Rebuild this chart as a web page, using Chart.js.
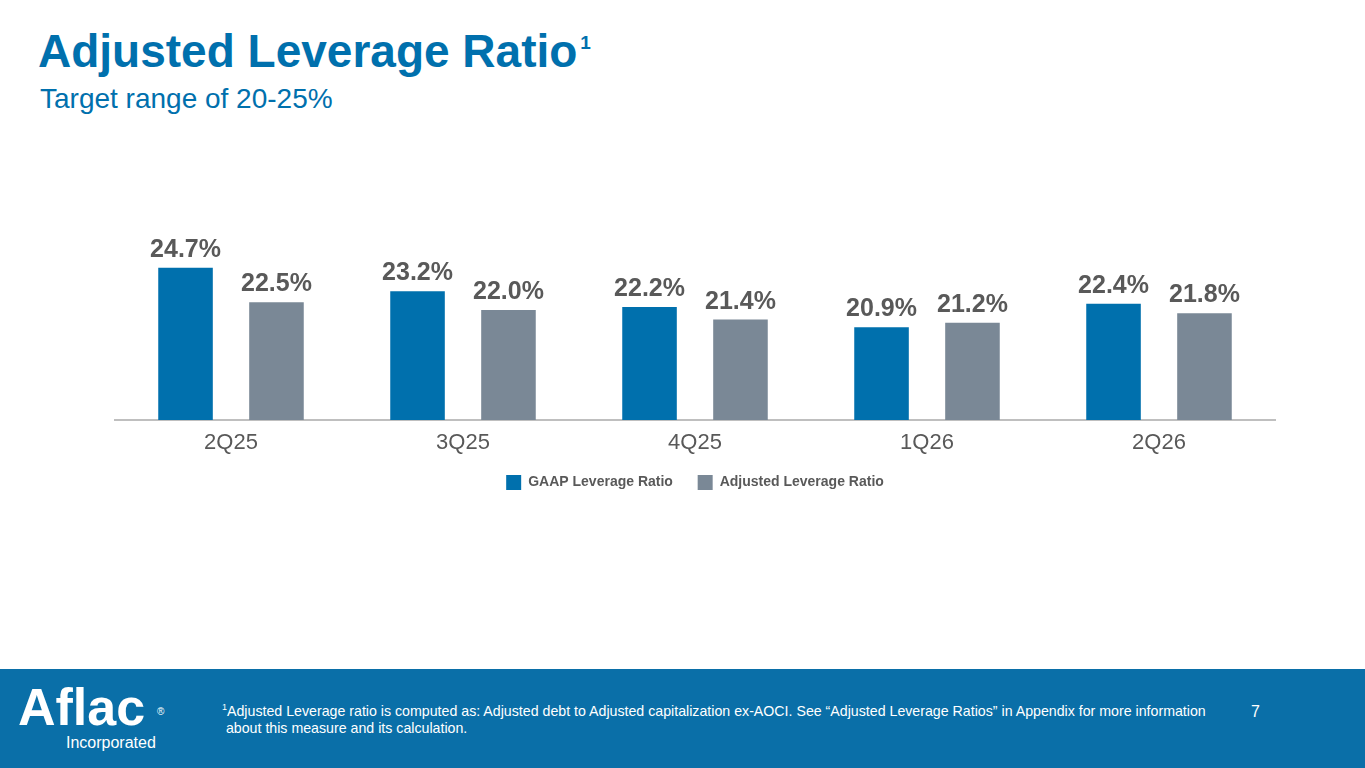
<!DOCTYPE html>
<html>
<head>
<meta charset="utf-8">
<script src="https://cdn.jsdelivr.net/npm/chart.js@4.4.1/dist/chart.umd.min.js"></script>
<style>
  html, body { margin: 0; padding: 0; background: #fff; }
  body { width: 1365px; height: 768px; position: relative; overflow: hidden; font-family: "Liberation Sans", Arial, sans-serif; }
  .title { position: absolute; left: 38px; top: 28px; font-size: 46px; line-height: 46px; font-weight: bold; color: #0070AD; white-space: nowrap; }
  .title sup { font-size: 19px; position: relative; top: -8px; margin-left: 3px; vertical-align: top; }
  .subtitle { position: absolute; left: 40px; top: 85px; font-size: 28px; line-height: 28px; color: #0070AD; white-space: nowrap; }
  #wrap { position: absolute; left: 0; top: 180px; width: 1365px; height: 340px; }
  .footer { position: absolute; left: 0; top: 669px; width: 1365px; height: 99px; background: #0A6FA8; color: #fff; }
  .logo { position: absolute; left: 18px; top: 12px; font-size: 52px; line-height: 52px; font-weight: bold; }
  .reg { position: absolute; left: 157px; top: 38px; font-size: 10px; line-height: 10px; }
  .inc { position: absolute; left: 66px; top: 66px; font-size: 16px; line-height: 16px; }
  .note { position: absolute; left: 222px; top: 30px; font-size: 14.2px; line-height: 17px; white-space: nowrap; }
  .note sup { font-size: 9px; }
  .page { position: absolute; left: 1251px; top: 35px; font-size: 16px; line-height: 16px; }
</style>
</head>
<body>
<div class="title">Adjusted Leverage Ratio<sup>1</sup></div>
<div class="subtitle">Target range of 20-25%</div>
<div id="wrap"><canvas id="chart" width="1365" height="340"></canvas></div>
<div class="footer">
  <div class="logo">Aflac</div>
  <div class="reg">®</div>
  <div class="inc">Incorporated</div>
  <div class="note"><sup>1</sup>Adjusted Leverage ratio is computed as: Adjusted debt to Adjusted capitalization ex-AOCI. See “Adjusted Leverage Ratios” in Appendix for more information<br>&nbsp;about this measure and its calculation.</div>
  <div class="page">7</div>
</div>
<script>
const quarters = ['2Q25', '3Q25', '4Q25', '1Q26', '2Q26'];
const gaapRatio = [24.7, 23.2, 22.2, 20.9, 22.4];
const adjustedRatio = [22.5, 22.0, 21.4, 21.2, 21.8];

// value labels above each bar
const barLabels = {
  id: 'barLabels',
  afterDatasetsDraw(chart) {
    const ctx = chart.ctx;
    ctx.save();
    ctx.font = 'bold 25px "Liberation Sans", Arial, sans-serif';
    ctx.fillStyle = '#595959';
    ctx.textAlign = 'center';
    ctx.textBaseline = 'alphabetic';
    chart.data.datasets.forEach((ds, i) => {
      chart.getDatasetMeta(i).data.forEach((bar, j) => {
        ctx.fillText(ds.data[j].toFixed(1) + '%', bar.x, bar.y - 11);
      });
    });
    ctx.restore();
  }
};

new Chart(document.getElementById('chart'), {
  type: 'bar',
  data: {
    labels: quarters,
    datasets: [
      { label: 'GAAP Leverage Ratio', data: gaapRatio, backgroundColor: '#0070AD' },
      { label: 'Adjusted Leverage Ratio', data: adjustedRatio, backgroundColor: '#7A8896' }
    ]
  },
  options: {
    responsive: false,
    animation: false,
    categoryPercentage: 0.784,
    barPercentage: 0.6,
    layout: { padding: { top: 83, left: 115, right: 90, bottom: 20 } },
    scales: {
      x: {
        grid: { display: false },
        border: { color: '#BFBFBF', width: 2 },
        ticks: { color: '#595959', font: { size: 22, family: '"Liberation Sans", Arial, sans-serif', lineHeight: 1 }, padding: 4 }
      },
      y: { display: false, min: 15, max: 25 }
    },
    plugins: {
      legend: {
        position: 'bottom',
        labels: {
          boxWidth: 15, boxHeight: 15, padding: 17, color: '#595959',
          font: { size: 14, weight: 'bold', family: '"Liberation Sans", Arial, sans-serif' },
          generateLabels(chart) {
            const items = Chart.defaults.plugins.legend.labels.generateLabels(chart);
            items[0].text += '  '; // wider gap between the two legend entries
            return items;
          }
        }
      },
      tooltip: { enabled: false }
    }
  },
  plugins: [barLabels]
});
</script>
</body>
</html>
